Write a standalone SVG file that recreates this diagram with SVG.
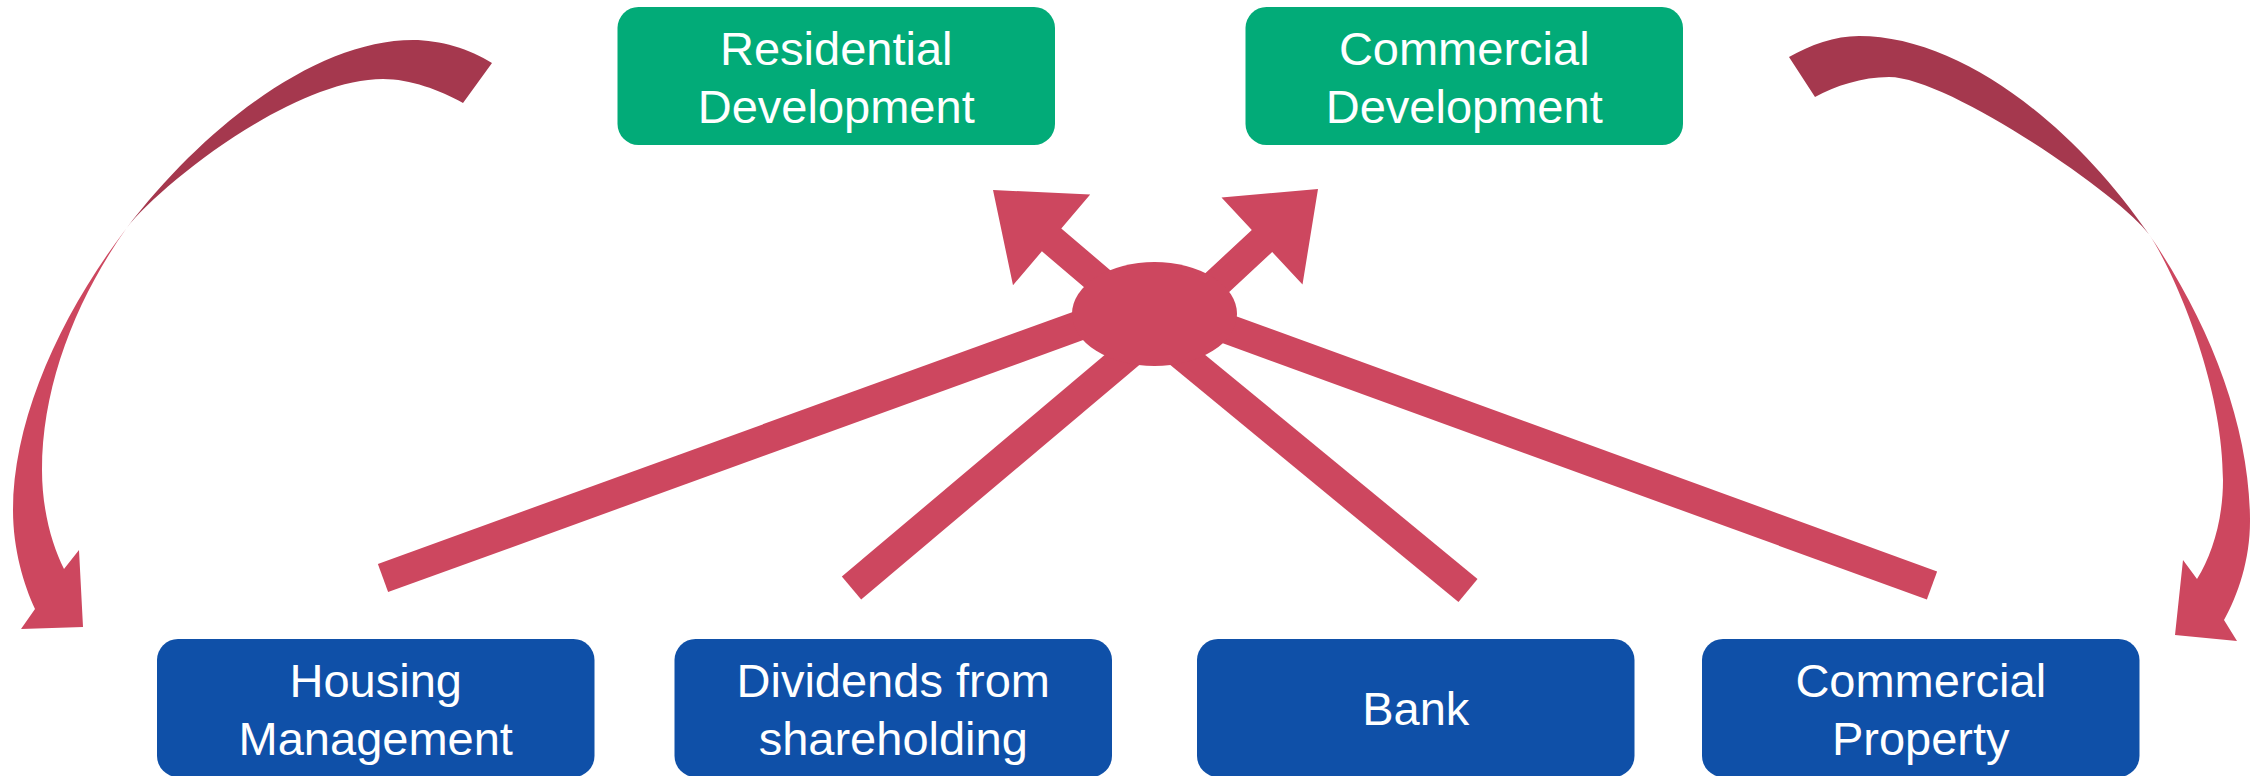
<svg xmlns="http://www.w3.org/2000/svg" width="2262" height="776" viewBox="0 0 2262 776">
<style>
.top rect{fill:#02AB78}
.bot rect{fill:#0F50A8}
text{font-family:"Liberation Sans",Arial,sans-serif;font-size:47px;fill:#FFFFFF;text-anchor:middle}
.pink{fill:#CD475F}
.dark{fill:#A5384E}
.shaft{stroke:#CD475F;stroke-width:30;stroke-linecap:butt;fill:none}
</style>
<rect width="2262" height="776" fill="#FFFFFF"/>
<g id="connectors">
  <path class="dark" d="M492,63 C470,49 440,40 413,40 C319.5,40 207.85,121.75 126.3,228.5 C159.7,184.8 293,79 383,79 C410,79 440,90 463,103 Z"/>
  <path class="pink" d="M126.3,228.5 C59.57,315.94 13,420.11 13,510 C13,550 24,585 35,609 L21,629 L83,627 L79,550 L64,569 C52,545 42,510 42,470 C42,385.7 75.7,299.9 126.3,228.5 Z"/>
  <path class="dark" d="M1789,57 C1810,45 1835,36 1859,36 C1958.4,36 2070.6,121.2 2149.1,234.6 C2123.5,197.6 1949,77 1889,77 C1862,77 1835,86 1815,97 Z"/>
  <path class="pink" d="M2149.1,234.6 C2209.3,321.9 2250,426.1 2250,521 C2250,560 2238,595 2224,620 L2237,641 L2175,635 L2183,560 L2197,579 C2212,555 2223,520 2223,480 C2223,380 2171.8,267.9 2149.1,234.6 Z"/>
  <line class="shaft" x1="383" y1="578" x2="1100" y2="318"/>
  <line class="shaft" x1="851.5" y1="588" x2="1135" y2="349"/>
  <line class="shaft" x1="1468" y1="590.5" x2="1175" y2="349.5"/>
  <line class="shaft" x1="1932" y1="585.5" x2="1200" y2="319"/>
  <polygon class="pink" points="993,190 1090.2,194.6 1061.3,228.5 1154.9,308.2 1135.5,331 1041.9,251.3 1013,285.2"/>
  <polygon class="pink" points="1318,189 1221.5,197.4 1251.8,230 1161.2,314.2 1181.6,336.2 1272.2,252 1302.5,284.6"/>
  <ellipse class="pink" cx="1154.5" cy="314" rx="82.5" ry="52"/>
</g>
<g id="residential" class="top">
  <rect x="617.5" y="7" width="437.5" height="138" rx="21"/>
  <text x="836.25" y="65">Residential</text>
  <text x="836.25" y="123">Development</text>
</g>
<g id="commercial-dev" class="top">
  <rect x="1245.5" y="7" width="437.5" height="138" rx="21"/>
  <text x="1464.25" y="65">Commercial</text>
  <text x="1464.25" y="123">Development</text>
</g>
<g id="housing" class="bot">
  <rect x="157" y="639" width="437.5" height="138" rx="21"/>
  <text x="375.75" y="697">Housing</text>
  <text x="375.75" y="755">Management</text>
</g>
<g id="dividends" class="bot">
  <rect x="674.5" y="639" width="437.5" height="138" rx="21"/>
  <text x="893.25" y="697">Dividends from</text>
  <text x="893.25" y="755">shareholding</text>
</g>
<g id="bank" class="bot">
  <rect x="1197" y="639" width="437.5" height="138" rx="21"/>
  <text x="1415.75" y="725">Bank</text>
</g>
<g id="commercial-property" class="bot">
  <rect x="1702" y="639" width="437.5" height="138" rx="21"/>
  <text x="1920.75" y="697">Commercial</text>
  <text x="1920.75" y="755">Property</text>
</g>
</svg>
